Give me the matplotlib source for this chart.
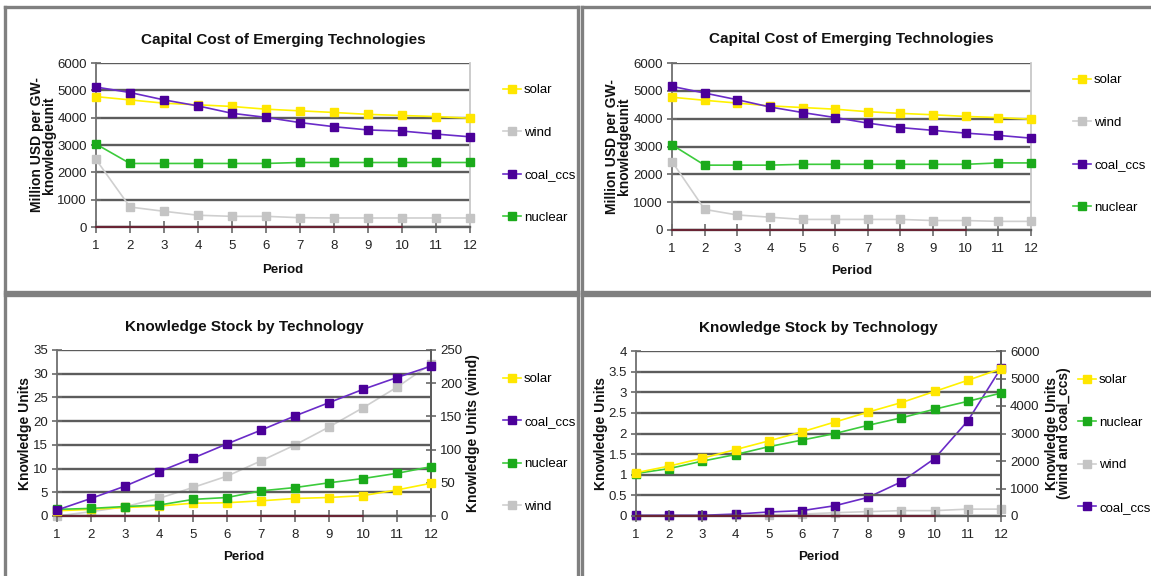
import matplotlib.pyplot as plt
from matplotlib.lines import Line2D

W, H = 1151, 576
SANS = ['Liberation Sans', 'DejaVu Sans']

periods = [1, 2, 3, 4, 5, 6, 7, 8, 9, 10, 11, 12]
baseline = [0, 0, 0, 0, 0, 0, 0, 0, 0, 0]   # dark red series sitting on zero

# capital cost, left run
cost_solar_l = [4770, 4650, 4530, 4470, 4410, 4310, 4250, 4190, 4120, 4080, 4040, 3980]
cost_wind_l = [2470, 730, 575, 430, 390, 390, 340, 330, 330, 330, 330, 330]
cost_coal_l = [5120, 4920, 4650, 4430, 4160, 4010, 3820, 3670, 3550, 3510, 3400, 3300]
cost_nuclear_l = [3035, 2325, 2325, 2325, 2325, 2325, 2360, 2360, 2360, 2360, 2360, 2360]

# capital cost, right run
cost_solar_r = [4770, 4660, 4560, 4460, 4400, 4340, 4250, 4190, 4140, 4080, 4040, 3980]
cost_wind_r = [2460, 740, 540, 460, 380, 380, 380, 380, 340, 340, 310, 310]
cost_coal_r = [5160, 4920, 4680, 4420, 4220, 4040, 3840, 3680, 3580, 3480, 3400, 3300]
cost_nuclear_r = [3060, 2330, 2330, 2330, 2360, 2360, 2360, 2360, 2360, 2360, 2410, 2410]

# knowledge stock, left run (wind on right axis)
ks_solar_l = [1.1, 1.4, 1.8, 2.1, 2.7, 2.8, 3.2, 3.7, 3.9, 4.3, 5.5, 6.9]
ks_coal_l = [1.25, 3.7, 6.3, 9.35, 12.2, 15.2, 18.1, 21.1, 23.9, 26.7, 29.2, 31.6]
ks_nuclear_l = [1.4, 1.6, 2.0, 2.3, 3.5, 3.9, 5.3, 6.0, 7.0, 7.9, 9.0, 10.4]
ks_wind_l = [0, 6.5, 14, 26.6, 43, 60, 83, 107, 134, 163, 194, 229]

# knowledge stock, right run (wind and coal_ccs on right axis)
ks_solar_r = [1.05, 1.21, 1.40, 1.61, 1.82, 2.04, 2.28, 2.52, 2.75, 3.02, 3.29, 3.57]
ks_nuclear_r = [1.03, 1.15, 1.33, 1.49, 1.68, 1.84, 2.0, 2.2, 2.38, 2.59, 2.78, 2.98]
ks_wind_r = [0, 0, 0, 25, 45, 70, 120, 160, 195, 195, 250, 250]
ks_coal_r = [25, 25, 25, 70, 145, 195, 375, 680, 1245, 2090, 3460, 5380]

COL = {
    'solar': ('#FFF200', '#FFE600'),
    'wind': ('#CFCFCF', '#C4C4C4'),
    'coal_ccs': ('#6A2BC8', '#4B0099'),
    'nuclear': ('#3CCB3C', '#1BAA1B'),
}
GRID = '#5c5c5c'
TICKS = dict(direction='inout', width=1.2, color='#6a6a6a', labelsize=9.5,
             labelcolor='#222222')


def px_axes(fig, left, top, right, bottom):
    return fig.add_axes([left / W, 1 - bottom / H, (right - left) / W, (bottom - top) / H])


def series(ax, y, name):
    line, marker = COL[name]
    return ax.plot(periods, y, color=line, lw=1.2, marker='s', ms=5.6,
                   mfc=marker, mec=marker, label=name, clip_on=False, zorder=4)[0]


def style(ax, ymax, step, right_light=True):
    ax.set_xlim(1, 12)
    ax.set_ylim(0, ymax)
    ax.set_xticks(periods)
    yt = [i * step for i in range(int(round(ymax / step)) + 1)]
    ax.set_yticks(yt)
    ax.yaxis.grid(True, color=GRID, lw=1.7)
    ax.set_axisbelow(True)
    ax.spines['top'].set_visible(False)
    ax.spines['left'].set_color('#707070')
    ax.spines['left'].set_linewidth(1.3)
    ax.spines['bottom'].set_color(GRID)
    ax.spines['bottom'].set_linewidth(1.7)
    ax.spines['right'].set_color('#c8c8c8' if right_light else GRID)
    ax.spines['right'].set_linewidth(1.3)
    ax.tick_params(axis='x', length=9, pad=5, **TICKS)
    ax.tick_params(axis='y', length=7, pad=3, **TICKS)
    for lab in ax.get_xticklabels() + ax.get_yticklabels():
        lab.set_family(SANS)
    ax.plot(periods[:len(baseline)], baseline, color='#6e1428', lw=1.1, zorder=3, clip_on=False)


def right_axis(ax, ymax, step):
    ax2 = ax.twinx()
    ax2.set_ylim(0, ymax)
    ax2.set_yticks([i * step for i in range(int(round(ymax / step)) + 1)])
    for s in ax2.spines.values():
        s.set_visible(False)
    ax2.spines['right'].set_visible(True)
    ax2.spines['right'].set_color(GRID)
    ax2.spines['right'].set_linewidth(1.3)
    ax2.tick_params(axis='y', length=7, pad=3, **TICKS)
    for lab in ax2.get_yticklabels():
        lab.set_family(SANS)
    return ax2


def label_x(ax, px):
    # convert a figure pixel x into axes fraction for label placement
    bb = ax.get_position()
    return (px / W - bb.x0) / bb.width


def texts(ax, title, ylabel, ylab_px, title_py, period_py):
    bb = ax.get_position()
    cx = (bb.x0 + bb.x1) / 2 * W
    fig.text(cx / W, 1 - title_py / H, title, ha='center', va='center',
             family=SANS, fontweight='bold', fontsize=11, color='#111111')
    fig.text(cx / W, 1 - period_py / H, 'Period', ha='center', va='center',
             family=SANS, fontweight='bold', fontsize=9.5, color='#111111')
    ax.set_ylabel(ylabel, family=SANS, fontweight='bold', fontsize=10,
                  linespacing=0.8, color='#111111')
    ax.yaxis.set_label_coords(label_x(ax, ylab_px), 0.5)


def legend(ax, handles, x_px, y_px):
    ax.legend(handles=handles, loc='upper left', frameon=False,
              bbox_to_anchor=(x_px / W, 1 - y_px / H), bbox_transform=fig.transFigure,
              prop={'family': SANS, 'size': 9.5}, labelspacing=2.3,
              handlelength=1.4, handletextpad=0.2, borderpad=0, borderaxespad=0)


fig = plt.figure(figsize=(W / 100, H / 100), dpi=100)

# panel frames
frame = dict(color='#808080', lw=2.4, transform=fig.transFigure, clip_on=False)
for (x0, y0, x1, y1) in [(5, 7, 578, 292), (582, 7, 1160, 292),
                         (5, 295, 578, 590), (582, 295, 1160, 590)]:
    fig.add_artist(Line2D([x0 / W, x1 / W], [1 - y0 / H, 1 - y0 / H], **frame))
    fig.add_artist(Line2D([x0 / W, x0 / W], [1 - y0 / H, 1 - y1 / H], **frame))
    fig.add_artist(Line2D([x1 / W, x1 / W], [1 - y0 / H, 1 - y1 / H], **frame))
    fig.add_artist(Line2D([x0 / W, x1 / W], [1 - y1 / H, 1 - y1 / H], **frame))

# top left
ax = px_axes(fig, 96, 63, 470, 227)
style(ax, 6000, 1000)
h = {n: series(ax, y, n) for n, y in [('wind', cost_wind_l), ('nuclear', cost_nuclear_l),
                                      ('solar', cost_solar_l), ('coal_ccs', cost_coal_l)]}
texts(ax, 'Capital Cost of Emerging Technologies', 'Million USD per GW-\nknowledgeunit', 56, 40, 270)
legend(ax, [h['solar'], h['wind'], h['coal_ccs'], h['nuclear']], 503, 84)

# top right
ax = px_axes(fig, 672, 63, 1031, 230)
style(ax, 6000, 1000)
h = {n: series(ax, y, n) for n, y in [('wind', cost_wind_r), ('nuclear', cost_nuclear_r),
                                      ('solar', cost_solar_r), ('coal_ccs', cost_coal_r)]}
texts(ax, 'Capital Cost of Emerging Technologies', 'Million USD per GW-\nknowledgeunit', 631, 39, 271)
legend(ax, [h['solar'], h['wind'], h['coal_ccs'], h['nuclear']], 1073, 74)

# bottom left
ax = px_axes(fig, 57, 350, 431, 516)
style(ax, 35, 5, right_light=False)
ax2 = right_axis(ax, 250, 50)
hw = series(ax2, ks_wind_l, 'wind')
h = {n: series(ax, y, n) for n, y in [('solar', ks_solar_l), ('nuclear', ks_nuclear_l),
                                      ('coal_ccs', ks_coal_l)]}
ax.set_zorder(ax2.get_zorder() + 1)
ax.patch.set_visible(False)
texts(ax, 'Knowledge Stock by Technology', 'Knowledge Units', 32, 327, 557)
ax2.set_ylabel('Knowledge Units (wind)', family=SANS, fontweight='bold', fontsize=10,
               color='#111111')
ax2.yaxis.set_label_coords(label_x(ax2, 466), 0.5)
legend(ax, [h['solar'], h['coal_ccs'], h['nuclear'], hw], 503, 373)

# bottom right
ax = px_axes(fig, 636, 351, 1001, 516)
style(ax, 4, 0.5, right_light=False)
ax.set_yticklabels(['0', '0.5', '1', '1.5', '2', '2.5', '3', '3.5', '4'], family=SANS)
ax2 = right_axis(ax, 6000, 1000)
hw = series(ax2, ks_wind_r, 'wind')
hc = series(ax2, ks_coal_r, 'coal_ccs')
h = {n: series(ax, y, n) for n, y in [('nuclear', ks_nuclear_r), ('solar', ks_solar_r)]}
ax.set_zorder(ax2.get_zorder() + 1)
ax.patch.set_visible(False)
texts(ax, 'Knowledge Stock by Technology', 'Knowledge Units', 608, 328, 557)
ax2.set_ylabel('Knowledge Units\n(wind and coal_ccs)', family=SANS, fontweight='bold',
               fontsize=10, linespacing=0.8, color='#111111')
ax2.yaxis.set_label_coords(label_x(ax2, 1045), 0.5)
legend(ax, [h['solar'], h['nuclear'], hw, hc], 1078, 374)

fig.savefig('out.png', dpi=100)
